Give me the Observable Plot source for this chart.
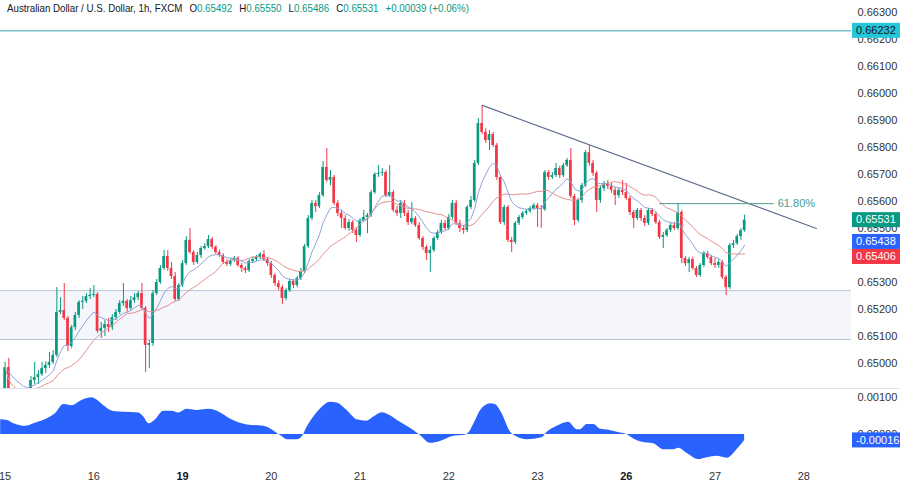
<!DOCTYPE html>
<html><head><meta charset="utf-8">
<script src="https://cdn.jsdelivr.net/npm/d3@7"></script>
<script src="https://cdn.jsdelivr.net/npm/@observablehq/plot@0.6"></script>
<style>
body{margin:0;background:#fff;}
#wrap{position:relative;width:900px;height:483px;overflow:hidden;font-family:"Liberation Sans",Arial,sans-serif;}
#title{position:absolute;left:7px;top:2px;font-size:11px;color:#131722;white-space:pre;transform:scaleX(0.885);transform-origin:0 0;}
#title .v{color:#089981}
#title .g{margin-left:8px}
#sep{height:1px;background:#e0e3eb;}
svg{display:block}
</style></head><body>
<div id="wrap"><div id="main"></div><div id="sep"></div><div id="osc"></div><div id="title"></div></div>
<script>
const FONT = '"Liberation Sans", Arial, sans-serif';
const GREEN = "#089981", RED = "#f23645";
const symbolName = "Australian Dollar / U.S. Dollar, 1h, FXCM";
const firstOpen = 0.64893;
const closes = [
0.64985,0.64893,0.64878,0.64870,0.64881,0.64863,0.64889,0.64937,0.64948,0.64959,
0.64981,0.64993,0.65004,0.65030,0.65189,0.65196,0.65167,0.65063,0.65133,0.65178,
0.65226,0.65230,0.65248,0.65252,0.65256,0.65119,0.65130,0.65144,0.65133,0.65170,
0.65189,0.65222,0.65230,0.65204,0.65233,0.65244,0.65259,0.65204,0.65067,0.65074,
0.65259,0.65300,0.65352,0.65396,0.65352,0.65322,0.65237,0.65289,0.65370,0.65456,
0.65411,0.65374,0.65400,0.65426,0.65433,0.65459,0.65430,0.65411,0.65400,0.65374,
0.65367,0.65381,0.65389,0.65363,0.65352,0.65344,0.65378,0.65385,0.65393,0.65404,
0.65385,0.65370,0.65326,0.65296,0.65281,0.65241,0.65270,0.65304,0.65289,0.65315,
0.65341,0.65433,0.65537,0.65593,0.65581,0.65622,0.65726,0.65678,0.65689,0.65593,
0.65556,0.65537,0.65500,0.65522,0.65493,0.65474,0.65530,0.65541,0.65548,0.65633,
0.65700,0.65704,0.65707,0.65622,0.65633,0.65567,0.65556,0.65593,0.65556,0.65522,
0.65537,0.65511,0.65463,0.65430,0.65407,0.65419,0.65463,0.65485,0.65519,0.65500,
0.65541,0.65593,0.65519,0.65500,0.65493,0.65578,0.65604,0.65741,0.65889,0.65856,
0.65826,0.65848,0.65807,0.65689,0.65522,0.65578,0.65456,0.65448,0.65519,0.65541,
0.65556,0.65563,0.65574,0.65585,0.65574,0.65570,0.65707,0.65689,0.65696,0.65722,
0.65696,0.65733,0.65752,0.65619,0.65530,0.65604,0.65659,0.65781,0.65741,0.65704,
0.65604,0.65648,0.65667,0.65656,0.65641,0.65622,0.65641,0.65633,0.65611,0.65559,
0.65537,0.65567,0.65537,0.65519,0.65567,0.65552,0.65522,0.65467,0.65474,0.65493,
0.65511,0.65500,0.65559,0.65389,0.65370,0.65385,0.65352,0.65326,0.65363,0.65407,
0.65393,0.65370,0.65363,0.65374,0.65319,0.65281,0.65437,0.65444,0.65470,0.65492,
0.65531];
const highs = [
0.65004,0.65019,0.64904,0.64889,0.64893,0.64889,0.64900,0.64952,0.65004,0.64974,
0.65004,0.65007,0.65041,0.65048,0.65281,0.65244,0.65296,0.65174,0.65141,0.65189,
0.65233,0.65248,0.65259,0.65278,0.65289,0.65263,0.65152,0.65159,0.65167,0.65181,
0.65200,0.65233,0.65296,0.65237,0.65248,0.65259,0.65267,0.65296,0.65211,0.65085,
0.65270,0.65311,0.65363,0.65419,0.65419,0.65374,0.65337,0.65296,0.65381,0.65470,
0.65500,0.65419,0.65411,0.65433,0.65444,0.65474,0.65467,0.65437,0.65419,0.65407,
0.65385,0.65389,0.65396,0.65396,0.65370,0.65359,0.65385,0.65393,0.65400,0.65411,
0.65419,0.65393,0.65378,0.65333,0.65307,0.65289,0.65278,0.65311,0.65311,0.65322,
0.65352,0.65441,0.65548,0.65604,0.65604,0.65633,0.65748,0.65796,0.65715,0.65696,
0.65604,0.65567,0.65548,0.65533,0.65530,0.65504,0.65537,0.65567,0.65556,0.65641,
0.65707,0.65733,0.65722,0.65715,0.65733,0.65641,0.65581,0.65604,0.65604,0.65567,
0.65596,0.65544,0.65522,0.65470,0.65437,0.65433,0.65470,0.65493,0.65530,0.65530,
0.65552,0.65604,0.65604,0.65530,0.65511,0.65585,0.65619,0.65752,0.65907,0.65956,
0.65870,0.65863,0.65856,0.65815,0.65696,0.65585,0.65585,0.65467,0.65526,0.65548,
0.65563,0.65570,0.65581,0.65593,0.65593,0.65585,0.65715,0.65715,0.65707,0.65741,
0.65730,0.65741,0.65759,0.65796,0.65626,0.65611,0.65667,0.65789,0.65807,0.65752,
0.65711,0.65656,0.65674,0.65678,0.65667,0.65652,0.65648,0.65678,0.65667,0.65619,
0.65567,0.65574,0.65574,0.65548,0.65574,0.65574,0.65559,0.65530,0.65485,0.65500,
0.65519,0.65522,0.65593,0.65567,0.65396,0.65393,0.65393,0.65359,0.65370,0.65415,
0.65415,0.65400,0.65389,0.65385,0.65381,0.65326,0.65444,0.65456,0.65478,0.65500,
0.65550];
const lows = [
0.64885,0.64878,0.64867,0.64856,0.64859,0.64852,0.64856,0.64881,0.64922,0.64922,
0.64952,0.64963,0.64981,0.64996,0.65022,0.65181,0.65159,0.65044,0.65056,0.65122,
0.65167,0.65200,0.65222,0.65237,0.65244,0.65111,0.65093,0.65100,0.65115,0.65122,
0.65159,0.65181,0.65211,0.65189,0.65196,0.65222,0.65233,0.65196,0.64967,0.64981,
0.65063,0.65252,0.65293,0.65344,0.65341,0.65311,0.65230,0.65230,0.65281,0.65363,
0.65404,0.65363,0.65367,0.65389,0.65419,0.65426,0.65422,0.65404,0.65393,0.65367,
0.65359,0.65359,0.65374,0.65356,0.65337,0.65333,0.65337,0.65370,0.65378,0.65385,
0.65378,0.65359,0.65315,0.65285,0.65270,0.65219,0.65233,0.65263,0.65278,0.65281,
0.65307,0.65333,0.65426,0.65530,0.65559,0.65574,0.65615,0.65670,0.65659,0.65585,
0.65544,0.65500,0.65493,0.65489,0.65481,0.65448,0.65467,0.65522,0.65481,0.65541,
0.65626,0.65689,0.65693,0.65615,0.65615,0.65559,0.65544,0.65537,0.65544,0.65511,
0.65515,0.65504,0.65456,0.65419,0.65381,0.65337,0.65411,0.65456,0.65478,0.65493,
0.65493,0.65533,0.65511,0.65485,0.65478,0.65485,0.65570,0.65596,0.65733,0.65848,
0.65815,0.65789,0.65800,0.65678,0.65515,0.65511,0.65448,0.65411,0.65441,0.65511,
0.65533,0.65548,0.65556,0.65567,0.65504,0.65500,0.65563,0.65678,0.65681,0.65689,
0.65685,0.65689,0.65726,0.65611,0.65511,0.65522,0.65593,0.65652,0.65730,0.65693,
0.65559,0.65593,0.65637,0.65644,0.65630,0.65585,0.65611,0.65622,0.65604,0.65548,
0.65500,0.65530,0.65526,0.65507,0.65511,0.65544,0.65515,0.65459,0.65426,0.65467,
0.65485,0.65493,0.65493,0.65370,0.65359,0.65337,0.65344,0.65319,0.65319,0.65356,
0.65385,0.65363,0.65352,0.65352,0.65311,0.65252,0.65274,0.65426,0.65437,0.65456,
0.65486];

// lower pane oscillator, read at bar positions
const oscI = [-1.2,0.6,2.4,5.5,7.8,12.3,13.6,15.9,18.1,20.4,23.6,24.4,26.7,29.4,32.1,36.2,37.5,38.9,40.7,42.9,45.2,47,49.2,51.9,55.1,58.2,60.9,65.5,70,71.8,74.5,76.3,79,80.3,81.7,85.3,88,89.8,92.5,95.2,97.9,99.7,102,104.2,106.9,110.5,112.3,115,117.7,121.3,124,125.4,126.8,128.6,131.3,132.6,134.4,136.7,138.5,141.2,145.2,146.6,149.3,152.4,154.7,155.6,157.4,159.2,160.9,163.6,166.4,168.2,170,172.3,175.4,178.1,180.8,182.2,184.4,187.6,189.9,192.6,195.3,198.1,200];
const oscV = [0.00040,0.00038,0.00029,0.00022,0.00029,0.00047,0.00056,0.00081,0.00078,0.00090,0.00099,0.00096,0.00078,0.00062,0.00060,0.00058,0.00047,0.00029,0.00040,0.00063,0.00063,0.00058,0.00068,0.00065,0.00068,0.00059,0.00042,0.00026,0.00022,0.00015,-0.00003,-0.00014,-0.00014,-0.00007,0.00020,0.00069,0.00087,0.00085,0.00065,0.00040,0.00036,0.00047,0.00059,0.00051,0.00033,0.00011,-0.00003,-0.00024,-0.00019,-0.00005,-0.00003,0.00004,0.00029,0.00065,0.00083,0.00081,0.00056,0.00006,-0.00007,-0.00014,-0.00009,0.00006,0.00022,0.00033,0.00013,0.00013,0.00027,0.00027,0.00015,0.00011,0.00004,0,-0.00012,-0.00021,-0.00025,-0.00041,-0.00041,-0.00037,-0.00051,-0.00068,-0.00063,-0.00059,-0.00064,-0.00039,-0.00016];

// drawings
const levelLine = 0.66232;
const zoneLo = 0.65089, zoneHi = 0.65270;
const trendI = [129.1, 219.4], trendP = [0.65956, 0.65500];
const fibI = [177, 208], fibP = 0.65592, fibLabel = "61.80%", fibLabelI = 214;

// axes
const priceTicks = [0.650,0.651,0.652,0.653,0.654,0.655,0.656,0.657,0.658,0.659,0.660,0.661,0.662,0.663];
const oscTicks = [0, 0.001];
const dayIdx = [0,24,48,72,96,120,144,168,192,216];
const dayLabels = ["15","16","19","20","21","22","23","26","27","28"];
const boldDays = ["19","26"];
const fastLen = 10, slowLen = 20;

// ---- build tables
const candles = closes.map((c, i) => {
  const o = i ? closes[i - 1] : firstOpen;
  return {i, open: o, close: c, high: highs[i], low: lows[i], color: c >= o ? GREEN : RED};
});
const sma = closes.map((c, i) => {
  const w = closes.slice(Math.max(0, i - slowLen + 1), i + 1);
  return {i, v: d3.mean(w)};
});
const ema = [];
closes.forEach((c, i) => {
  const prev = i ? ema[i - 1].v : c;
  ema.push({i, v: prev + (2 / (fastLen + 1)) * (c - prev)});
});
const oscData = oscI.map((x, k) => ({i: x, v: oscV[k]}));
const trend = trendI.map((x, k) => ({i: x, p: trendP[k]}));
const fib = [{i1: fibI[0], i2: fibI[1], p: fibP, li: fibLabelI, label: fibLabel}];

const xDomain = [-1.244, 228.9];
const W = 900, MR = 49;

const main = Plot.plot({
  width: W, height: 388,
  marginLeft: 0, marginRight: MR, marginTop: 0, marginBottom: 0,
  x: {domain: xDomain, axis: null},
  y: {domain: [0.649074, 0.663444], axis: null},
  style: {fontFamily: FONT, fontSize: "11px", color: "#333", background: "#fff"},
  marks: [
    Plot.rect([{lo: zoneLo, hi: zoneHi}], {y1: "lo", y2: "hi", fill: "#f4f6fc"}),
    Plot.ruleY([zoneLo, zoneHi], {stroke: "#bcc5d8", strokeWidth: 1}),
    Plot.ruleY([levelLine], {stroke: "#3aa6b2", strokeWidth: 1}),
    Plot.axisY({anchor: "right", ticks: priceTicks, tickFormat: d => d.toFixed(5), tickSize: 0, tickPadding: 6, label: null, fill: "#333"}),
    Plot.ruleX(candles, {x: "i", y1: "low", y2: "high", stroke: "color", strokeWidth: 1, clip: true}),
    Plot.rect(candles, {
      x1: d => d.i - 0.36, x2: d => d.i + 0.36,
      y1: d => Math.min(d.open, d.close),
      y2: d => Math.max(d.open, d.close) + (d.open === d.close ? 0.00003 : 0),
      fill: "color", clip: true
    }),
    Plot.line(sma, {x: "i", y: "v", stroke: "#e78f8f", strokeWidth: 1, clip: true}),
    Plot.line(ema, {x: "i", y: "v", stroke: "#8ea4d8", strokeWidth: 1, clip: true}),
    Plot.line(trend, {x: "i", y: "p", stroke: "#5d6e8e", strokeWidth: 1.2}),
    Plot.ruleY(fib, {x1: "i1", x2: "i2", y: "p", stroke: "#4a9d92", strokeWidth: 1}),
    Plot.text(fib, {x: "li", y: "p", text: "label", fill: "#4a9d92", fontSize: 11})
  ]
});

const osc = Plot.plot({
  width: W, height: 94,
  marginLeft: 0, marginRight: MR, marginTop: 0, marginBottom: 22,
  x: {domain: xDomain},
  y: {domain: [-0.00073, 0.0012162], axis: null},
  style: {fontFamily: FONT, fontSize: "11px", color: "#333", background: "#fff"},
  marks: [
    Plot.areaY(oscData, {x: "i", y: "v", fill: "#2962ff", curve: "monotone-x"}),
    Plot.axisY({anchor: "right", ticks: oscTicks, tickFormat: d => d.toFixed(5), tickSize: 0, tickPadding: 6, label: null, fill: "#333"}),
    Plot.axisX({ticks: dayIdx.filter((d, k) => !boldDays.includes(dayLabels[k])), tickFormat: d => dayLabels[dayIdx.indexOf(d)], tickSize: 0, tickPadding: 11, label: null, fill: "#333"}),
    Plot.axisX({ticks: dayIdx.filter((d, k) => boldDays.includes(dayLabels[k])), tickFormat: d => dayLabels[dayIdx.indexOf(d)], tickSize: 0, tickPadding: 11, label: null, fill: "#131722", fontWeight: "bold"})
  ]
});

document.getElementById("main").appendChild(main);
document.getElementById("osc").appendChild(osc);

// price tags on the right scale, spread apart when they collide
function drawTags(svg, tags) {
  const ys = svg.scale("y"), xs = svg.scale("x");
  const x0 = xs.range[1];
  const H = 15;
  const items = tags.map(t => ({...t, y: ys.apply(t.value)})).sort((a, b) => a.y - b.y);
  for (let k = 1; k < items.length; k++) {
    const gap = items[k].y - items[k - 1].y;
    if (gap < H) {
      const push = (H - gap) / 2;
      items[k - 1].y -= push;
      items[k].y += push;
    }
  }
  const g = d3.select(svg).append("g").attr("text-anchor", "start");
  for (const t of items) {
    g.append("rect").attr("x", x0 + 1).attr("y", t.y - H / 2).attr("width", W - x0).attr("height", H).attr("fill", t.bg);
    g.append("text").attr("x", x0 + 5).attr("y", t.y).attr("dy", "0.35em")
      .attr("fill", t.fg).style("font-family", FONT).style("font-size", "11px").text(t.value.toFixed(5));
  }
}
const last = candles[candles.length - 1];
drawTags(main, [
  {value: levelLine, bg: "#26c6da", fg: "#131722"},
  {value: last.close, bg: GREEN, fg: "#fff"},
  {value: ema[ema.length - 1].v, bg: "#2962ff", fg: "#fff"},
  {value: sma[sma.length - 1].v, bg: RED, fg: "#fff"}
]);
drawTags(osc, [{value: oscV[oscV.length - 1], bg: "#2962ff", fg: "#fff"}]);

// title legend
const chg = last.close - last.open;
const sign = chg >= 0 ? "+" : "-";
const t = document.getElementById("title");
t.innerHTML = `<span>${symbolName}</span>` +
  `<span class="g">O<span class="v">${last.open.toFixed(5)}</span></span>` +
  `<span class="g">H<span class="v">${last.high.toFixed(5)}</span></span>` +
  `<span class="g">L<span class="v">${last.low.toFixed(5)}</span></span>` +
  `<span class="g">C<span class="v">${last.close.toFixed(5)}</span></span>` +
  `<span class="g v">${sign}${Math.abs(chg).toFixed(5)} (${sign}${(Math.abs(chg) / last.open * 100).toFixed(2)}%)</span>`;
</script>
</body></html>
